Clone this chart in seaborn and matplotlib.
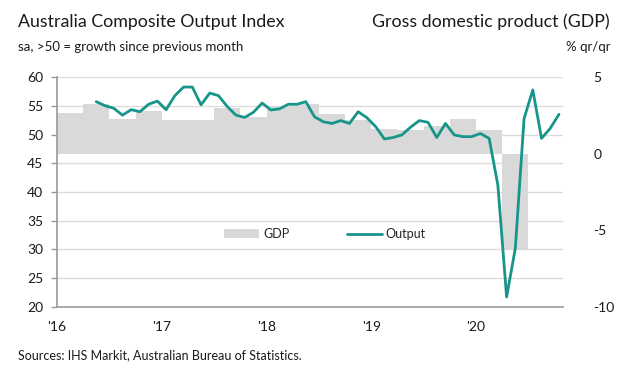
import numpy as np
import pandas as pd
import seaborn as sns
from matplotlib import pyplot as plt

# GDP, % y/y by quarter (2016Q1 .. 2020Q2), right axis
gdp_quarters = ["2016Q1", "2016Q2", "2016Q3", "2016Q4",
                "2017Q1", "2017Q2", "2017Q3", "2017Q4",
                "2018Q1", "2018Q2", "2018Q3", "2018Q4",
                "2019Q1", "2019Q2", "2019Q3", "2019Q4",
                "2020Q1", "2020Q2"]
gdp_values = [2.66, 3.25, 2.27, 2.79,
              2.20, 2.18, 2.97, 2.38,
              3.12, 3.25, 2.57, 2.18,
              1.64, 1.57, 1.79, 2.25,
              1.57, -6.27]

# Composite Output Index, monthly May 2016 .. Oct 2020, left axis
output_start = "2016-05"
output_values = [55.75, 55.05, 54.6, 53.4, 54.35, 54.0, 55.3, 55.85,          # 2016
                 54.35, 56.8, 58.3, 58.3, 55.2, 57.25, 56.8, 54.9, 53.4, 53.0, 53.9, 55.5,   # 2017
                 54.3, 54.5, 55.3, 55.3, 55.75, 53.1, 52.25, 51.95, 52.45, 51.95, 54.0, 52.95,  # 2018
                 51.4, 49.25, 49.5, 49.95, 51.3, 52.45, 52.15, 49.5, 51.95, 49.95, 49.65, 49.65,  # 2019
                 50.2, 49.35, 41.2, 21.7, 30.2, 52.8, 57.8, 49.35, 51.1, 53.55]  # 2020

year_ticks = [2016, 2017, 2018, 2019, 2020]
year_labels = ["'16", "'17", "'18", "'19", "'20"]

teal = "#17958a"
bar_grey = "#d9d9d9"
grid_grey = "#dcdcdc"
axis_grey = "#9a9a9a"
txt = "#1a1a1a"

sns.set_theme(style="white")
plt.rcParams["font.family"] = ["Lato", "DejaVu Sans"]

# fractional-year positions
q = pd.PeriodIndex(gdp_quarters, freq="Q")
gdp_x = q.year + (q.quarter - 1) / 4
months = pd.period_range(output_start, periods=len(output_values), freq="M")
out_df = pd.DataFrame({"x": months.year + (months.month - 0.5) / 12,
                       "Output": output_values})

fig = plt.figure(figsize=(6.27, 3.78), dpi=100)
ax = fig.add_axes([57 / 627, 1 - 306.7 / 378, (563 - 57) / 627, (306.7 - 77.3) / 378])
ax2 = ax.twinx()

# GDP bars on right scale, behind the line
ax2.bar(gdp_x, gdp_values, width=0.25, align="edge", color=bar_grey,
        linewidth=0, label="GDP")
ax2.set_ylim(-10, 5)
ax2.set_yticks([5, 0, -5, -10])
ax2.set_yticklabels(["5", "0", "-5", "-10"])
ax2.tick_params(axis="y", length=0, pad=22, labelsize=10, colors=txt)
for s in ax2.spines.values():
    s.set_visible(False)

ax.set_zorder(ax2.get_zorder() + 1)
ax.patch.set_visible(False)

sns.lineplot(data=out_df, x="x", y="Output", ax=ax, color=teal, linewidth=2.0,
             label="Output", legend=False)

ax.set_xlim(2016, 2020.83)
ax.set_ylim(20, 60)
ax.set_yticks(np.arange(20, 61, 5))
ax.set_xticks(year_ticks)
ax.set_xticklabels(year_labels)
ax.set_xlabel("")
ax.set_ylabel("")
ax.grid(False)
for y in np.arange(25, 61, 5):
    ax2.axhline(-10 + (y - 20) * 15 / 40, color=grid_grey, linewidth=1.0, zorder=0)

ax.tick_params(axis="both", direction="out", length=4, width=1,
               colors=axis_grey, labelcolor=txt, labelsize=10, pad=6)
for side in ["top", "right"]:
    ax.spines[side].set_visible(False)
for side in ["left", "bottom"]:
    ax.spines[side].set_color(axis_grey)
    ax.spines[side].set_linewidth(1.2)

# legend inside the plot
h2, l2 = ax2.get_legend_handles_labels()
h1, l1 = ax.get_legend_handles_labels()
ax.legend(h2 + h1, l2 + l1, ncol=2, frameon=False, fontsize=9,
          loc="center", bbox_to_anchor=(268 / 506, 1 - (234 - 77.3) / 229.4),
          handlelength=2.8, handletextpad=0.3, columnspacing=4.6)

fig.text(18 / 627, 1 - 22 / 378, "Australia Composite Output Index",
         fontsize=12.8, color=txt, va="center", ha="left")
fig.text(18 / 627, 1 - 47 / 378, "sa, >50 = growth since previous month",
         fontsize=9.5, color=txt, va="center", ha="left")
fig.text(610 / 627, 1 - 22 / 378, "Gross domestic product (GDP)",
         fontsize=12.8, color=txt, va="center", ha="right")
fig.text(610 / 627, 1 - 47 / 378, "% qr/qr",
         fontsize=9.5, color=txt, va="center", ha="right")
fig.text(18 / 627, 1 - 355 / 378, "Sources: IHS Markit, Australian Bureau of Statistics.",
         fontsize=9, color=txt, va="center", ha="left")

fig.savefig("out.png", dpi=100)
